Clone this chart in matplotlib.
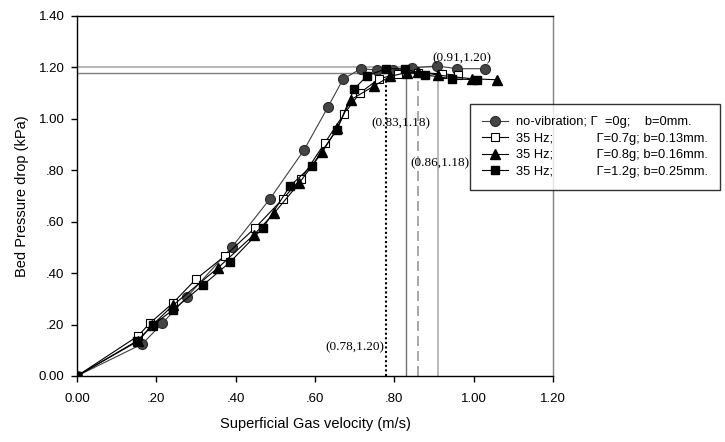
import matplotlib
matplotlib.use("Agg")
import matplotlib.pyplot as plt

# superficial gas velocity (m/s) and bed pressure drop (kPa) per run
x_novib = [0, 0.165, 0.215, 0.277, 0.39, 0.486, 0.572, 0.633, 0.671, 0.716, 0.756, 0.797, 0.845, 0.907, 0.958, 1.028]
y_novib = [0, 0.125, 0.205, 0.307, 0.50, 0.688, 0.878, 1.047, 1.155, 1.195, 1.19, 1.19, 1.198, 1.206, 1.195, 1.195]

x_07g = [0, 0.154, 0.184, 0.242, 0.30, 0.373, 0.449, 0.519, 0.565, 0.625, 0.673, 0.713, 0.761, 0.81, 0.86, 0.92, 0.96]
y_07g = [0, 0.156, 0.206, 0.284, 0.377, 0.467, 0.576, 0.689, 0.767, 0.907, 1.019, 1.10, 1.156, 1.175, 1.18, 1.175, 1.17]

x_08g = [0, 0.154, 0.19, 0.242, 0.355, 0.446, 0.497, 0.56, 0.618, 0.656, 0.69, 0.749, 0.789, 0.831, 0.86, 0.91, 0.996, 1.058]
y_08g = [0, 0.136, 0.198, 0.275, 0.42, 0.549, 0.633, 0.75, 0.87, 0.963, 1.074, 1.128, 1.165, 1.18, 1.184, 1.17, 1.156, 1.152]

x_12g = [0, 0.151, 0.191, 0.242, 0.318, 0.386, 0.469, 0.537, 0.592, 0.655, 0.698, 0.731, 0.779, 0.827, 0.877, 0.945, 1.008]
y_12g = [0, 0.136, 0.198, 0.257, 0.354, 0.443, 0.576, 0.739, 0.818, 0.957, 1.115, 1.167, 1.195, 1.195, 1.171, 1.156, 1.152]

labels = ["no-vibration; \u0393  =0g;    b=0mm.",
          "35 Hz;            \u0393=0.7g; b=0.13mm.",
          "35 Hz;            \u0393=0.8g; b=0.16mm.",
          "35 Hz;            \u0393=1.2g; b=0.25mm."]

# minimum fluidization points marked on the chart
umf_x = [0.78, 0.83, 0.86, 0.91]
umf_y = [1.20, 1.18, 1.18, 1.20]
umf_text = ["(0.78,1.20)", "(0.83,1.18)", "(0.86,1.18)", "(0.91,1.20)"]

xticks = [0, 0.2, 0.4, 0.6, 0.8, 1.0, 1.2]
xticklabels = ["0.00", ".20", ".40", ".60", ".80", "1.00", "1.20"]
yticks = [0, 0.2, 0.4, 0.6, 0.8, 1.0, 1.2, 1.4]
yticklabels = ["0.00", ".20", ".40", ".60", ".80", "1.00", "1.20", "1.40"]

plt.rcParams['font.family'] = ['Liberation Sans', 'DejaVu Sans']

fig = plt.figure(figsize=(7.25, 4.42), dpi=100)
ax = fig.add_axes([77/725, 1 - 376/442, (553 - 77)/725, (376 - 16)/442])

# reference lines
ax.plot([0, umf_x[3]], [umf_y[3], umf_y[3]], color="#aaaaaa", lw=1.2, zorder=1)
ax.plot([0, umf_x[2]], [umf_y[2], umf_y[2]], color="#808080", lw=1.0, zorder=1)
ax.plot([umf_x[0], umf_x[0]], [0, 1.16], color="black", lw=1.5, ls=(0, (1, 1.2)), zorder=1)
ax.plot([umf_x[1], umf_x[1]], [0, umf_y[1]], color="#707070", lw=1.0, zorder=1)
ax.plot([umf_x[2], umf_x[2]], [0, umf_y[2]], color="#999999", lw=1.2, ls=(0, (6, 3)), zorder=1)
ax.plot([umf_x[3], umf_x[3]], [0, umf_y[3]], color="#b4b4b4", lw=1.3, zorder=1)

# data series
h1, = ax.plot(x_novib, y_novib, color="#404040", lw=0.8, marker="o", ms=7.2,
              mfc="#454545", mec="#2a2a2a", mew=0.8, zorder=3)
h2, = ax.plot(x_07g, y_07g, color="black", lw=0.8, marker="s", ms=6,
              mfc="white", mec="black", mew=0.8, zorder=3)
h3, = ax.plot(x_08g, y_08g, color="black", lw=0.8, marker="^", ms=6.5,
              mfc="black", mec="black", zorder=3)
h4, = ax.plot(x_12g, y_12g, color="black", lw=0.8, marker="s", ms=6,
              mfc="black", mec="black", zorder=3)

# annotations
tfont = dict(family="Liberation Serif", fontsize=9.5)
ax.text(0.775, 0.113, umf_text[0], ha="right", va="center", **tfont)
ax.text(0.816, 0.984, umf_text[1], ha="center", va="center", **tfont)
ax.text(0.916, 0.829, umf_text[2], ha="center", va="center", **tfont)
ax.text(0.97, 1.235, umf_text[3], ha="center", va="center", **tfont)

ax.set_xlim(0, 1.2)
ax.set_ylim(0, 1.4)
ax.set_xticks(xticks)
ax.set_xticklabels(xticklabels)
ax.set_yticks(yticks)
ax.set_yticklabels(yticklabels)
ax.tick_params(direction="out", length=4, width=1, labelsize=9.5, pad=8)
ax.tick_params(axis="y", pad=5)
for s in ["left", "bottom", "top"]:
    ax.spines[s].set_color("black")
    ax.spines[s].set_linewidth(1)
ax.spines["right"].set_color("#808080")
ax.spines["right"].set_linewidth(1)

ax.set_xlabel("Superficial Gas velocity (m/s)", fontsize=10.5, labelpad=9)
ax.set_ylabel("Bed Pressure drop (kPa)", fontsize=10.5, labelpad=7)

leg = ax.legend([h1, h2, h3, h4], labels, loc="upper left",
                bbox_to_anchor=(470/725, 1 - 104/442), bbox_transform=fig.transFigure,
                borderaxespad=0, fontsize=9.3, frameon=True, fancybox=False,
                handlelength=2.0, handletextpad=0.6, labelspacing=0.35,
                borderpad=0.95)
leg.get_frame().set_edgecolor("black")
leg.get_frame().set_linewidth(1)
leg.set_zorder(5)

fig.savefig("out.png", dpi=100)
